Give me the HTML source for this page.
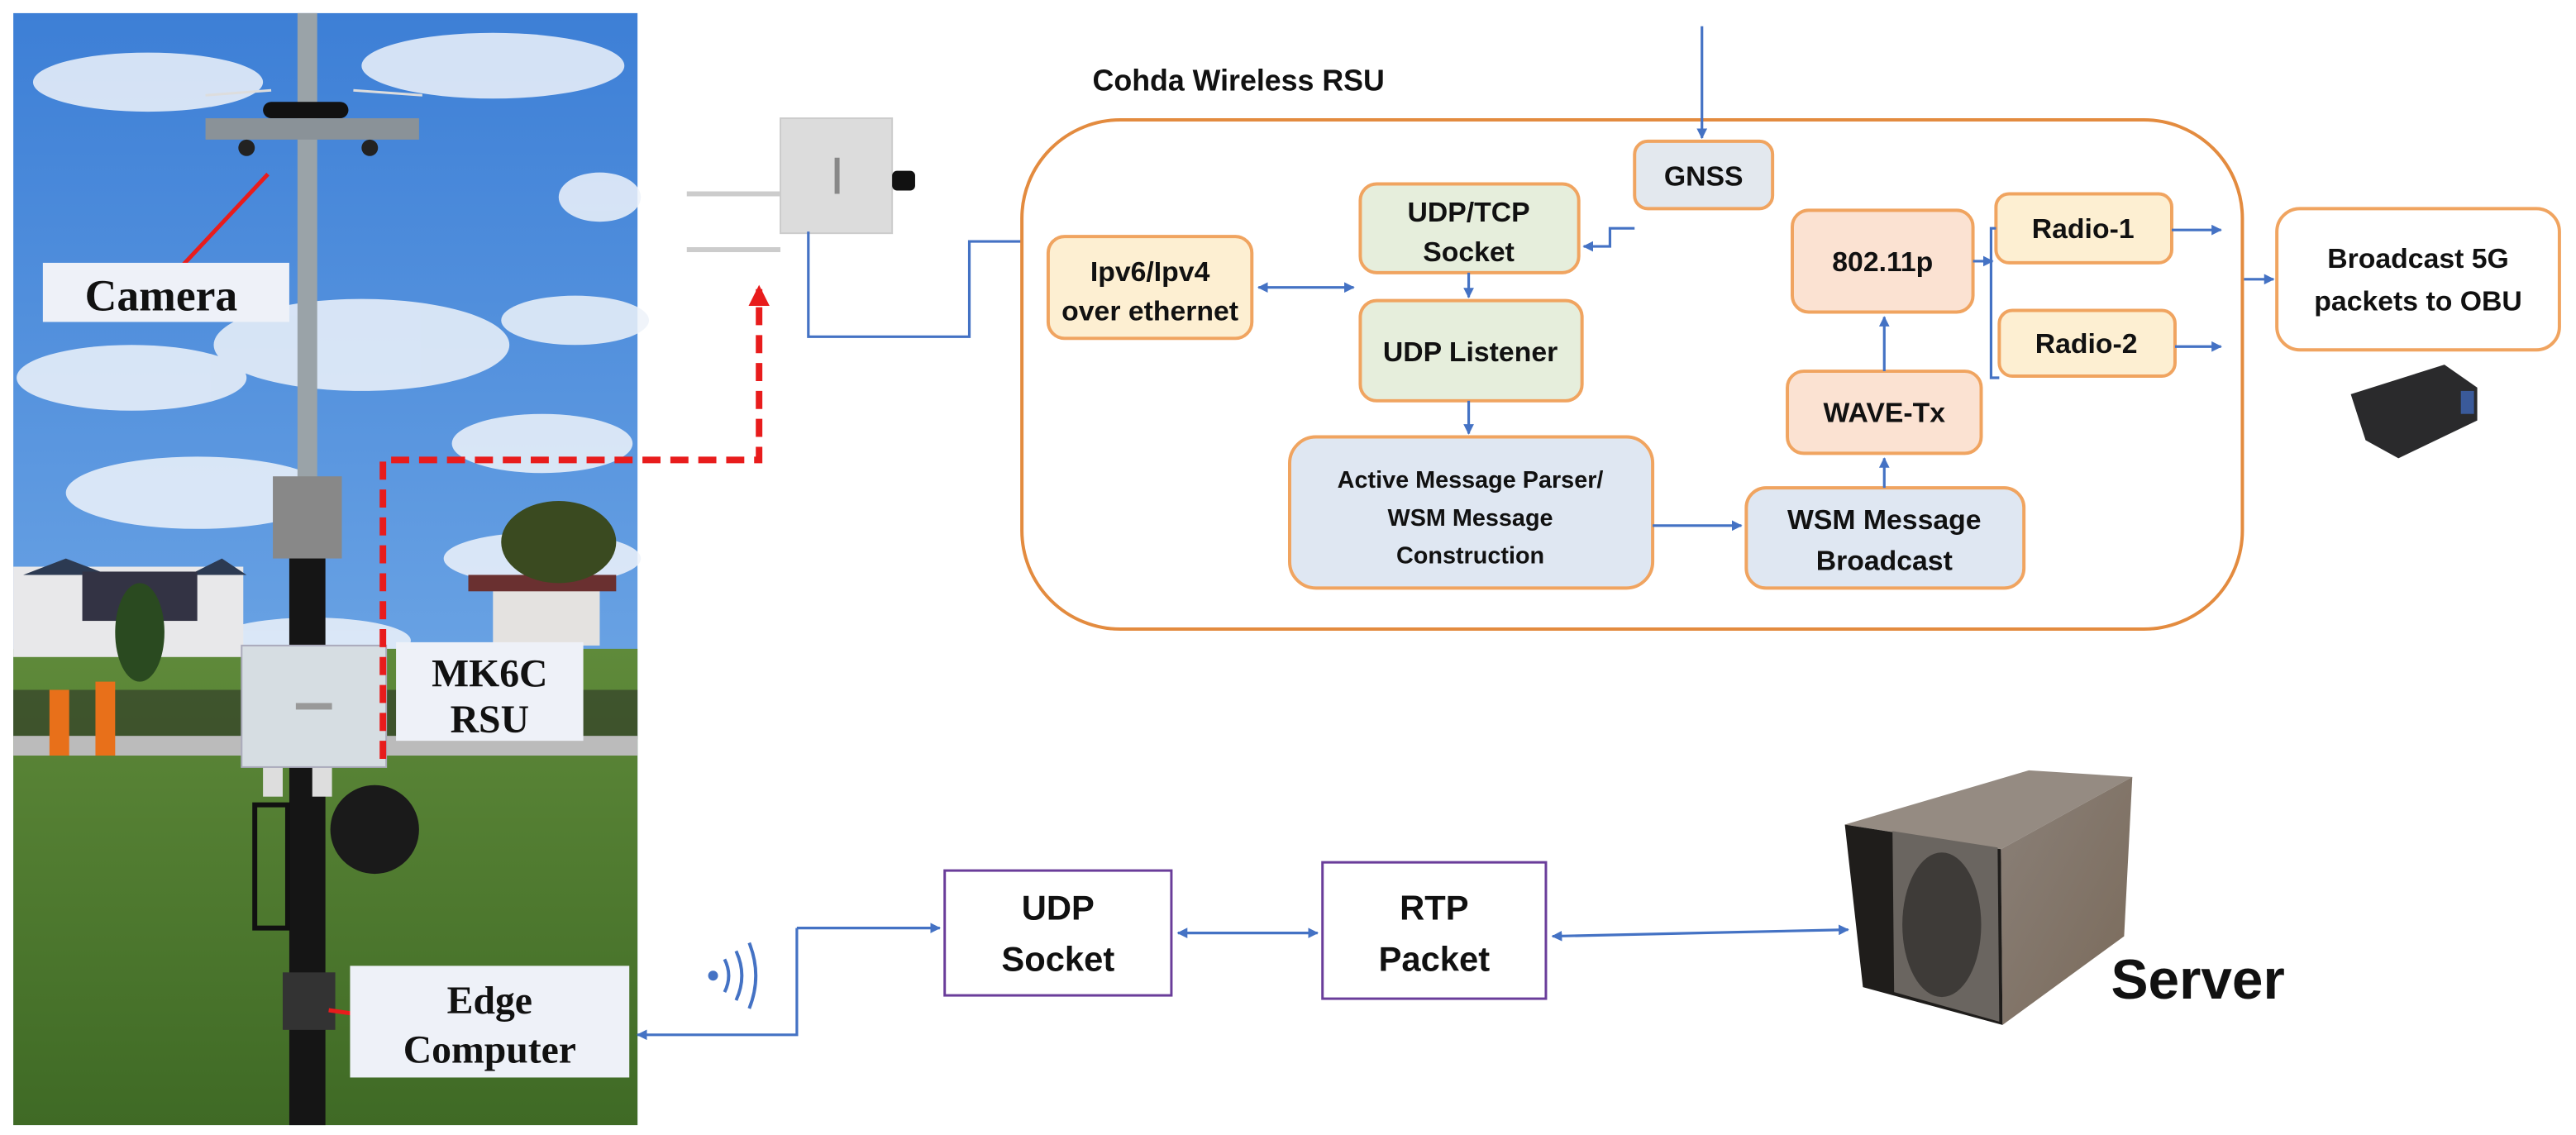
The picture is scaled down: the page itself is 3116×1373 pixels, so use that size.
<!DOCTYPE html>
<html><head><meta charset="utf-8"><style>
html,body{margin:0;padding:0;background:#fff;}
svg{display:block;}
.b{font-family:"Liberation Sans",sans-serif;font-weight:bold;fill:#111;}
.s{font-family:"Liberation Serif",serif;font-weight:bold;fill:#111;}
</style></head><body>
<svg width="3116" height="1373" viewBox="0 0 1568 691" xmlns="http://www.w3.org/2000/svg">
<defs>
<linearGradient id="sky" x1="0" y1="0" x2="0" y2="1">
<stop offset="0" stop-color="#3d7fd6"/><stop offset="0.6" stop-color="#6aa3e4"/><stop offset="1" stop-color="#9cc3ec"/></linearGradient>
<linearGradient id="grass" x1="0" y1="0" x2="0" y2="1">
<stop offset="0" stop-color="#5f8a3a"/><stop offset="1" stop-color="#3f6a25"/></linearGradient>
<linearGradient id="side" x1="0" y1="0" x2="1" y2="1">
<stop offset="0" stop-color="#8a8078"/><stop offset="1" stop-color="#7a6a5a"/></linearGradient>
<marker id="ab" viewBox="0 0 10 10" refX="9" refY="5" markerWidth="4" markerHeight="4" orient="auto-start-reverse"><path d="M0,0L10,5L0,10z" fill="#4472c4"/></marker>
<marker id="ar" viewBox="0 0 10 10" refX="8" refY="5" markerWidth="3.2" markerHeight="3.2" orient="auto"><path d="M0,0L10,5L0,10z" fill="#e81c1c"/></marker>
</defs>

<!-- photo -->
<rect x="8" y="8" width="380" height="677" fill="url(#sky)"/>
<g fill="#eef3fa" opacity="0.85">
<ellipse cx="90" cy="50" rx="70" ry="18"/><ellipse cx="300" cy="40" rx="80" ry="20"/>
<ellipse cx="220" cy="210" rx="90" ry="28"/><ellipse cx="80" cy="230" rx="70" ry="20"/>
<ellipse cx="330" cy="270" rx="55" ry="18"/><ellipse cx="350" cy="195" rx="45" ry="15"/>
<ellipse cx="120" cy="300" rx="80" ry="22"/><ellipse cx="330" cy="340" rx="60" ry="16"/>
<ellipse cx="190" cy="390" rx="60" ry="14"/><ellipse cx="365" cy="120" rx="25" ry="15"/>
</g>
<rect x="8" y="395" width="380" height="290" fill="url(#grass)"/>
<rect x="8" y="345" width="140" height="55" fill="#e8e8ea"/>
<polygon points="14,350 40,340 66,350" fill="#2c3a52"/><polygon points="115,350 135,340 150,350" fill="#2c3a52"/>
<rect x="50" y="348" width="70" height="30" fill="#334"/>
<rect x="300" y="358" width="65" height="35" fill="#e4e2e0"/><rect x="285" y="350" width="90" height="10" fill="#6a3030"/>
<ellipse cx="85" cy="385" rx="15" ry="30" fill="#2a4a20"/><ellipse cx="340" cy="330" rx="35" ry="25" fill="#3a4a20"/>
<rect x="8" y="420" width="380" height="30" fill="#222" opacity="0.5"/>
<rect x="8" y="448" width="380" height="12" fill="#bbb"/>
<rect x="30" y="420" width="12" height="40" fill="#e8701a"/><rect x="58" y="415" width="12" height="45" fill="#e8701a"/>
<!-- pole -->
<rect x="181" y="8" width="12" height="330" fill="#9aa3a8"/>
<rect x="176" y="330" width="22" height="355" fill="#151515"/>
<rect x="125" y="72" width="130" height="13" fill="#8a9298"/>
<rect x="160" y="62" width="52" height="10" rx="5" fill="#111"/>
<line x1="125" y1="58" x2="165" y2="55" stroke="#ddd" stroke-width="1.5"/><line x1="215" y1="55" x2="257" y2="58" stroke="#ddd" stroke-width="1.5"/>
<circle cx="150" cy="90" r="5" fill="#222"/><circle cx="225" cy="90" r="5" fill="#222"/>
<rect x="166" y="290" width="42" height="50" fill="#888"/>
<rect x="190" y="395" width="12" height="90" fill="#ddd"/><rect x="160" y="395" width="12" height="90" fill="#ddd"/>
<circle cx="228" cy="505" r="27" fill="#1a1a1a"/>
<rect x="155" y="490" width="20" height="75" fill="none" stroke="#111" stroke-width="3"/>
<rect x="172" y="592" width="32" height="35" fill="#333"/>
<rect x="147" y="393" width="88" height="74" fill="#d6dde2" stroke="#aab" stroke-width="1"/>
<rect x="180" y="428" width="22" height="4" fill="#999"/>
<line x1="105" y1="168" x2="163" y2="106" stroke="#e81c1c" stroke-width="2.5"/>
<line x1="200" y1="615" x2="235" y2="620" stroke="#e81c1c" stroke-width="2.5"/>
<!-- labels -->
<rect x="26" y="160" width="150" height="36" fill="#eef1f8"/>
<text x="98" y="189" class="s" font-size="27" text-anchor="middle">Camera</text>
<rect x="241" y="391" width="114" height="60" fill="#eef1f8"/>
<text x="298" y="418" class="s" font-size="24" text-anchor="middle">MK6C</text>
<text x="298" y="446" class="s" font-size="24" text-anchor="middle">RSU</text>
<rect x="213" y="588" width="170" height="68" fill="#eef1f8"/>
<text x="298" y="617" class="s" font-size="24" text-anchor="middle">Edge</text>
<text x="298" y="647" class="s" font-size="24" text-anchor="middle">Computer</text>

<!-- red dashed -->
<polyline points="233,462 233,280 462,280 462,176" fill="none" stroke="#e81c1c" stroke-width="4" stroke-dasharray="11,6" marker-end="url(#ar)"/>

<!-- RSU device -->
<line x1="418" y1="118" x2="475" y2="118" stroke="#ccc" stroke-width="3"/>
<line x1="418" y1="152" x2="475" y2="152" stroke="#ccc" stroke-width="3"/>
<rect x="475" y="72" width="68" height="70" fill="#dcdcdc" stroke="#ccc"/>
<rect x="508" y="96" width="3" height="22" fill="#888"/>
<rect x="543" y="104" width="14" height="12" rx="3" fill="#111"/>
<polyline points="492,141 492,205 590,205 590,147 636,147" fill="none" stroke="#4472c4" stroke-width="1.6" marker-end="url(#ab)"/>

<!-- big box -->
<text x="665" y="55" class="b" font-size="18">Cohda Wireless RSU</text>
<rect x="622" y="73" width="743" height="310" rx="60" fill="#fff" stroke="#e38b3f" stroke-width="2"/>
<line x1="1036" y1="16" x2="1036" y2="84" stroke="#4472c4" stroke-width="1.6" marker-end="url(#ab)"/>

<g stroke="#f0a460" stroke-width="2">
<rect x="638" y="144" width="124" height="62" rx="10" fill="#fdefd2"/>
<rect x="828" y="112" width="133" height="54" rx="10" fill="#e6eedc"/>
<rect x="995" y="86" width="84" height="41" rx="8" fill="#e3e8ee"/>
<rect x="828" y="183" width="135" height="61" rx="10" fill="#e6eedc"/>
<rect x="785" y="266" width="221" height="92" rx="16" fill="#dfe7f2"/>
<rect x="1063" y="297" width="169" height="61" rx="12" fill="#dfe7f2"/>
<rect x="1088" y="226" width="118" height="50" rx="10" fill="#fbe2d2"/>
<rect x="1091" y="128" width="110" height="62" rx="10" fill="#fbe2d2"/>
<rect x="1215" y="118" width="107" height="42" rx="8" fill="#fdefd2"/>
<rect x="1217" y="189" width="107" height="40" rx="8" fill="#fdefd2"/>
<rect x="1386" y="127" width="172" height="86" rx="14" fill="#fff"/>
</g>
<g class="b" font-size="17" text-anchor="middle">
<text x="700" y="171">Ipv6/Ipv4</text><text x="700" y="195">over ethernet</text>
<text x="894" y="135">UDP/TCP</text><text x="894" y="159">Socket</text>
<text x="1037" y="113">GNSS</text>
<text x="895" y="220">UDP Listener</text>
<text x="895" y="297" font-size="14.5">Active Message Parser/</text>
<text x="895" y="320" font-size="14.5">WSM Message</text>
<text x="895" y="343" font-size="14.5">Construction</text>
<text x="1147" y="322">WSM Message</text><text x="1147" y="347">Broadcast</text>
<text x="1147" y="257">WAVE-Tx</text>
<text x="1146" y="165">802.11p</text>
<text x="1268" y="145">Radio-1</text>
<text x="1270" y="215">Radio-2</text>
<text x="1472" y="163">Broadcast 5G</text><text x="1472" y="189">packets to OBU</text>
</g>
<g fill="none" stroke="#4472c4" stroke-width="1.6">
<line x1="766" y1="175" x2="824" y2="175" marker-start="url(#ab)" marker-end="url(#ab)"/>
<polyline points="995,139 980,139 980,150 964,150" marker-end="url(#ab)"/>
<line x1="894" y1="166" x2="894" y2="181" marker-end="url(#ab)"/>
<line x1="894" y1="244" x2="894" y2="264" marker-end="url(#ab)"/>
<line x1="1006" y1="320" x2="1060" y2="320" marker-end="url(#ab)"/>
<line x1="1147" y1="297" x2="1147" y2="279" marker-end="url(#ab)"/>
<line x1="1147" y1="226" x2="1147" y2="193" marker-end="url(#ab)"/>
<line x1="1201" y1="159" x2="1213" y2="159" marker-end="url(#ab)"/>
<polyline points="1215,139 1212,139 1212,230 1217,230"/>
<line x1="1322" y1="140" x2="1352" y2="140" marker-end="url(#ab)"/>
<line x1="1324" y1="211" x2="1352" y2="211" marker-end="url(#ab)"/>
<line x1="1366" y1="170" x2="1384" y2="170" marker-end="url(#ab)"/>
</g>
<!-- OBU -->
<polygon points="1431,240 1488,222 1508,236 1508,256 1460,279 1440,268" fill="#2a2a2c"/>
<rect x="1498" y="238" width="8" height="14" fill="#3a5a9a"/>

<!-- bottom -->
<circle cx="434" cy="594" r="3" fill="#4472c4"/>
<g fill="none" stroke="#4472c4" stroke-width="2">
<path d="M441,584 Q446,594 441,604"/><path d="M448,579 Q455,594 448,609"/><path d="M456,574 Q464,594 456,614"/>
</g>
<g fill="none" stroke="#4472c4" stroke-width="1.6">
<polyline points="485,565 485,630 388,630" marker-end="url(#ab)"/>
<line x1="485" y1="565" x2="572" y2="565" marker-end="url(#ab)"/>
<line x1="717" y1="568" x2="802" y2="568" marker-start="url(#ab)" marker-end="url(#ab)"/>
<line x1="945" y1="570" x2="1125" y2="566" marker-start="url(#ab)" marker-end="url(#ab)"/>
</g>
<rect x="575" y="530" width="138" height="76" fill="#fff" stroke="#6a3d9a" stroke-width="1.5"/>
<rect x="805" y="525" width="136" height="83" fill="#fff" stroke="#6a3d9a" stroke-width="1.5"/>
<g class="b" font-size="21" text-anchor="middle">
<text x="644" y="560">UDP</text><text x="644" y="591">Socket</text>
<text x="873" y="560">RTP</text><text x="873" y="591">Packet</text>
</g>
<!-- server -->
<polygon points="1123,502 1235,469 1298,473 1218,517" fill="#958b82"/>
<polygon points="1218,517 1298,473 1293,570 1219,624" fill="url(#side)"/>
<polygon points="1123,502 1218,517 1219,624 1134,601" fill="#1f1d1b"/>
<polygon points="1152,506 1216,516 1217,622 1153,604" fill="#6a6560"/>
<ellipse cx="1182" cy="563" rx="24" ry="44" fill="#3e3b38"/>
<text x="1285" y="608" class="b" font-size="34">Server</text>
</svg>
</body></html>
